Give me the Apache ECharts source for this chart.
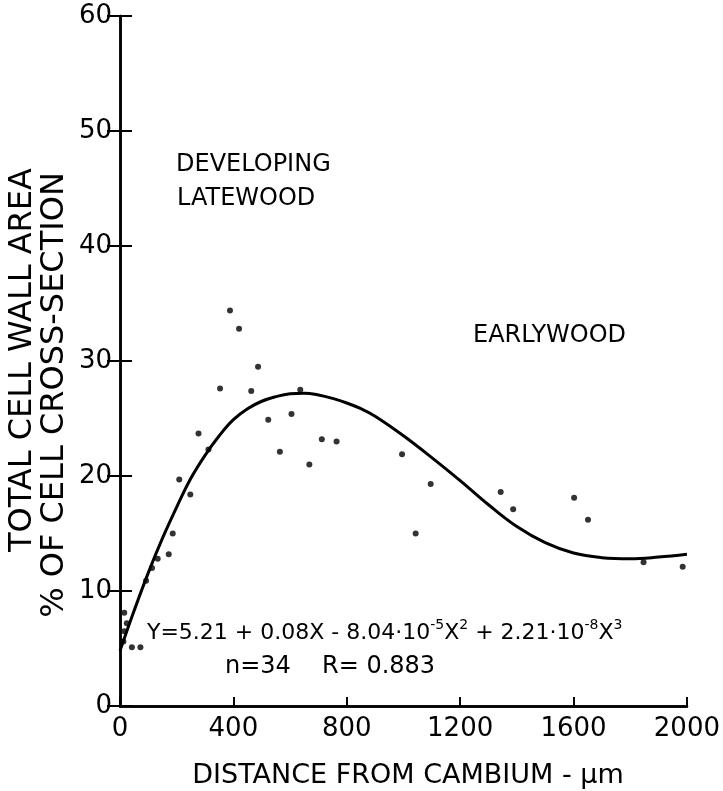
<!DOCTYPE html>
<html><head><meta charset="utf-8">
<script src="https://cdn.jsdelivr.net/npm/echarts@6/dist/echarts.min.js"></script>
<style>html,body{margin:0;padding:0;background:#fff}#c{width:723px;height:791px}</style>
</head><body><div id="c"></div>
<script>
// Observed points: distance from cambium (µm) and total cell wall area (%)
const pointX = [15, 24, 15, 12, 42, 72, 92, 113, 133, 172, 186, 209, 248, 277, 312, 353, 388, 420, 463, 487, 523, 564, 605, 636, 668, 712, 764, 995, 1043, 1096, 1343, 1387, 1602, 1651, 1847, 1985];
const pointY = [8.1, 7.2, 6.5, 5.6, 5.1, 5.1, 10.9, 12.0, 12.8, 13.2, 15.0, 19.7, 18.4, 23.7, 22.3, 27.6, 34.4, 32.8, 27.4, 29.5, 24.9, 22.1, 25.4, 27.5, 21.0, 23.2, 23.0, 21.9, 15.0, 19.3, 18.6, 17.1, 18.1, 16.2, 12.5, 12.1];
// Fitted curve
const curveX = [0, 50, 100, 150, 200, 250, 300, 350, 400, 450, 500, 550, 600, 650, 700, 750, 800, 850, 900, 1000, 1100, 1200, 1300, 1400, 1500, 1600, 1700, 1800, 1900, 2000];
const curveY = [4.8, 8.3, 11.6, 14.6, 17.3, 19.8, 21.8, 23.5, 24.9, 25.85, 26.5, 26.9, 27.15, 27.2, 27.05, 26.75, 26.35, 25.85, 25.2, 23.5, 21.6, 19.6, 17.5, 15.6, 14.2, 13.3, 12.9, 12.8, 12.95, 13.2];
const xRange = [0, 2000], xStep = 400;
const yRange = [0, 60], yStep = 10;
const xTitle = 'DISTANCE FROM CAMBIUM - \u03bcm';
const yTitle1 = 'TOTAL CELL WALL AREA';
const yTitle2 = '% OF CELL CROSS-SECTION';

const FONT = 'DejaVu Sans';
const chart = echarts.init(document.getElementById('c'), null, {renderer: 'canvas'});
const axisBase = {
  type: 'value', splitLine: {show: false},
  axisLine: {show: true, lineStyle: {color: '#000', width: 2.5}}
};
const toPairs = (xs, ys) => xs.map((x, i) => [x, ys[i]]);
const plain = v => String(v);

chart.setOption({
  animation: false,
  backgroundColor: '#fff',
  grid: {left: 120, right: 32, top: 16, bottom: 85},
  xAxis: [
    Object.assign({}, axisBase, {
      min: xRange[0], max: xRange[1], interval: xStep, position: 'bottom',
      axisTick: {show: true, inside: true, length: 9, lineStyle: {color: '#000', width: 2}},
      axisLabel: {color: '#000', fontFamily: FONT, fontSize: 26, margin: 10, formatter: plain}
    }),
    Object.assign({}, axisBase, {
      min: xRange[0], max: xRange[1], interval: xStep, position: 'top',
      axisTick: {show: false}, axisLabel: {show: false}
    })
  ],
  yAxis: [
    Object.assign({}, axisBase, {
      min: yRange[0], max: yRange[1], interval: yStep, position: 'left',
      axisTick: {show: true, inside: true, length: 12, lineStyle: {color: '#000', width: 2}},
      axisLabel: {color: '#000', fontFamily: FONT, fontSize: 26, margin: 8, formatter: plain}
    }),
    Object.assign({}, axisBase, {
      min: yRange[0], max: yRange[1], interval: yStep, position: 'right',
      axisTick: {show: true, inside: true, length: 13, lineStyle: {color: '#000', width: 2}},
      axisLabel: {show: false}
    })
  ],
  series: [
    {
      type: 'line', data: toPairs(curveX, curveY), smooth: 0.4, showSymbol: false,
      lineStyle: {color: '#000', width: 3}, silent: true, z: 2
    },
    {
      type: 'scatter', data: toPairs(pointX, pointY), symbolSize: 6,
      itemStyle: {color: '#000'}, z: 3
    }
  ],
  graphic: [
    {type: 'text', x: 176, y: 165, style: {text: 'DEVELOPING', fontFamily: FONT, fontSize: 24, fill: '#000', verticalAlign: 'middle', align: 'left'}},
    {type: 'text', x: 177, y: 199, style: {text: 'LATEWOOD', fontFamily: FONT, fontSize: 24, fill: '#000', verticalAlign: 'middle', align: 'left'}},
    {type: 'text', x: 473, y: 336, style: {text: 'EARLYWOOD', fontFamily: FONT, fontSize: 24, fill: '#000', verticalAlign: 'middle', align: 'left'}},
    {type: 'text', x: 147, y: 633, style: {
      text: '{b|Y=5.21 + 0.08X - 8.04\u00b710}{s|-5}{b|X}{s|2}{b| + 2.21\u00b710}{s|-8}{b|X}{s|3}',
      verticalAlign: 'middle', align: 'left', fill: '#000',
      rich: {
        b: {fontFamily: FONT, fontSize: 22, lineHeight: 30, fill: '#000'},
        s: {fontFamily: FONT, fontSize: 14, lineHeight: 14, verticalAlign: 'top', fill: '#000'}
      }
    }},
    {type: 'text', x: 225, y: 667, style: {text: 'n=34', fontFamily: FONT, fontSize: 24, fill: '#000', verticalAlign: 'middle', align: 'left'}},
    {type: 'text', x: 322, y: 667, style: {text: 'R= 0.883', fontFamily: FONT, fontSize: 24, fill: '#000', verticalAlign: 'middle', align: 'left'}},
    {type: 'text', x: 408, y: 776, style: {text: xTitle, fontFamily: FONT, fontSize: 27, fill: '#000', verticalAlign: 'middle', align: 'center'}},
    {type: 'text', x: 23, y: 360, rotation: Math.PI / 2, style: {text: yTitle1, fontFamily: FONT, fontSize: 32, fill: '#000', verticalAlign: 'middle', align: 'center'}},
    {type: 'text', x: 55, y: 395, rotation: Math.PI / 2, style: {text: yTitle2, fontFamily: FONT, fontSize: 32, fill: '#000', verticalAlign: 'middle', align: 'center'}}
  ]
});
</script>
</body></html>
